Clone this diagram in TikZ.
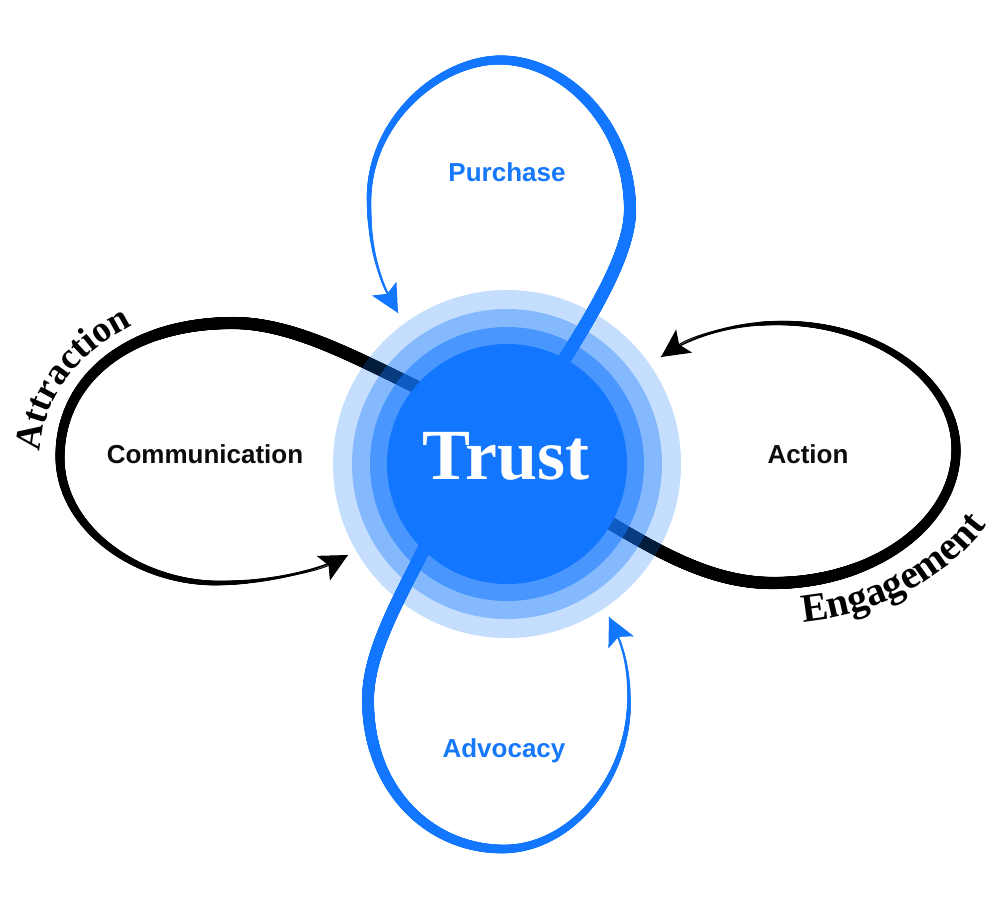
\documentclass[tikz,border=0pt]{standalone}
\usepackage{fontspec}
\setmainfont{Liberation Serif}
\setsansfont{Liberation Sans}
\usetikzlibrary{arrows.meta,decorations.markings,decorations.text}
\definecolor{tblue}{RGB}{18,119,254}
\definecolor{lblue}{RGB}{22,120,250}
\definecolor{lblack}{RGB}{12,12,12}
\tikzset{
  tapw/.store in=\tapw, tapw=13,
  tapmin/.store in=\tapmin, tapmin=1,
  tapcol/.store in=\tapcol, tapcol=black,
  taper/.style={
    postaction={decorate, decoration={markings,
      mark=between positions 0 and 1 step 0.6pt with {%
        \pgfmathsetmacro\tpu{min(1,(\pgfkeysvalueof{/pgf/decoration/mark info/distance from start})/(\pgfdecoratedpathlength))}%
        \pgfmathsetmacro\tpr{(\tapmin+(\tapw-\tapmin)*(1-\tpu*\tpu))/2}%
        \fill[fill=\tapcol] (0,0) circle[radius=\tpr pt];
      }}}},
  loopline/.style={line width=1pt, -{Stealth[length=28pt,width=28pt,inset=6pt]}, taper},
  blackloop/.style={loopline, draw=black, fill=none, tapcol=black},
  blueloop/.style={loopline, draw=tblue, tapcol=tblue},
  lab/.style={font=\sffamily\bfseries\fontsize{26}{26}\selectfont, anchor=base, inner sep=0pt},
  ring/.style={fill=tblue, draw=none},
  curvedtext/.style 2 args={decorate, decoration={text along path, text={|\bfseries\fontsize{#1}{#1}\selectfont|#2}}}
}
\begin{document}
\begin{tikzpicture}[x=1pt,y=-1pt]
\useasboundingbox (0,0) rectangle (1000,903);
\fill[white] (0,0) rectangle (1000,903);

\coordinate (C) at (507,464);
% loop start points (inside Trust) and arrow tips
\coordinate (L0) at (450,403);   \coordinate (Ltip) at (348,555);
\coordinate (R0) at (565,496);   \coordinate (Rtip) at (661,357);
\coordinate (T0) at (535,405);   \coordinate (Ttip) at (398,313);
\coordinate (B0) at (455,485);   \coordinate (Btip) at (609,617);

% Attraction / Communication loop
\draw[blackloop] (L0) .. controls (370,366) and (300,323) .. (233,323)
  .. controls (130,323) and (60,378) .. (60,457)
  .. controls (60,530) and (140,583) .. (217,583)
  .. controls (270,583) and (320,570) .. (Ltip);
% Engagement / Action loop
\draw[blackloop] (R0) .. controls (640,540) and (700,583) .. (773,583)
  .. controls (874,583) and (956,523) .. (956,450)
  .. controls (956,380) and (877,323) .. (780,323)
  .. controls (730,323) and (690,337) .. (Rtip);
% Purchase loop
\draw[blueloop] (T0) .. controls (580,335) and (630,260) .. (630,210)
  .. controls (630,125) and (565,60) .. (500,60)
  .. controls (440,60) and (369,120) .. (369,200)
  .. controls (369,260) and (385,290) .. (Ttip);
% Advocacy loop
\draw[blueloop] (B0) .. controls (415,575) and (368,640) .. (368,700)
  .. controls (368,790) and (430,849) .. (503,849)
  .. controls (570,849) and (629,780) .. (629,700)
  .. controls (629,660) and (620,640) .. (Btip);

% Trust rings
\fill[ring, fill opacity=0.24] (C) circle[radius=174pt];
\fill[ring, fill opacity=0.355] (C) circle[radius=155pt];
\fill[ring, fill opacity=0.53] (C) circle[radius=137pt];
\fill[ring] (C) circle[radius=120pt];

\node[anchor=base, inner sep=0pt, text=white, font=\bfseries\fontsize{72}{72}\selectfont] (trust) at (506,479) {Trust};

\node[lab, text=lblack] (comm) at (205,463) {Communication};
\node[lab, text=lblack] (action) at (808,463) {Action};
\node[lab, text=lblue] (purchase) at (507,181) {Purchase};
\node[lab, text=lblue] (advocacy) at (504,757) {Advocacy};

\path[curvedtext={37}{Attraction}] plot[domain=178:95, samples=80] ({233+193*cos(\x)}, {457-154*sin(\x)});
\path[curvedtext={40}{Engagement}] (803,622) .. controls (880,615) and (960,575) .. (1000,505);
\end{tikzpicture}
\end{document}
